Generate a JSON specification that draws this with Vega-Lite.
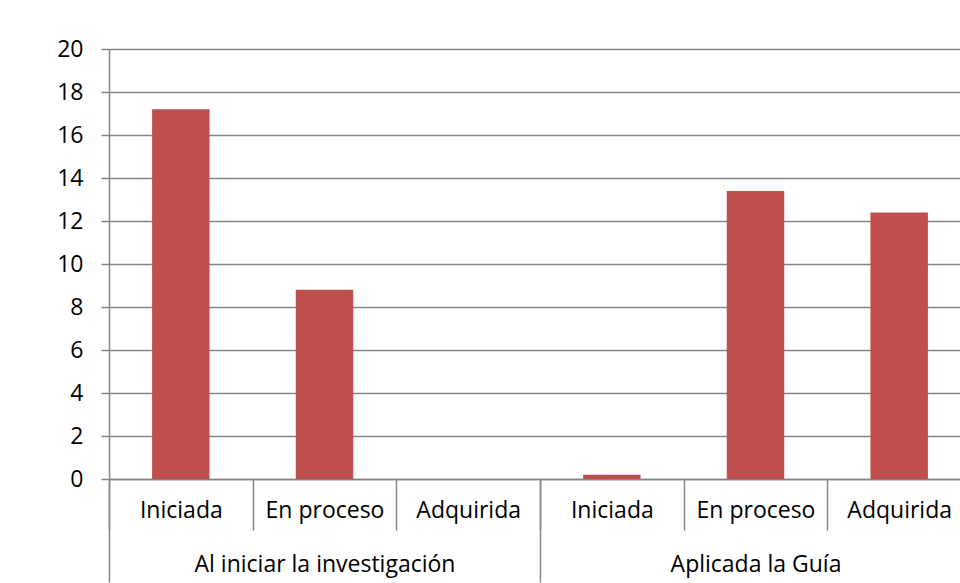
{
  "$schema": "https://vega.github.io/schema/vega-lite/v6.json",
  "width": 862,
  "height": 430,
  "autosize": {"type": "none"},
  "padding": {"left": 109, "top": 49, "right": 0, "bottom": 104},
  "background": "white",
  "config": {
    "view": {"stroke": null},
    "font": "Open Sans",
    "axis": {"labelFont": "Open Sans", "labelColor": "#000000", "labelLimit": 0}
  },
  "data": {
    "values": [
      {"key": "Al iniciar la investigación|Iniciada", "group": "Al iniciar la investigación", "level": "Iniciada", "value": 17.2},
      {"key": "Al iniciar la investigación|En proceso", "group": "Al iniciar la investigación", "level": "En proceso", "value": 8.8},
      {"key": "Al iniciar la investigación|Adquirida", "group": "Al iniciar la investigación", "level": "Adquirida", "value": 0},
      {"key": "Aplicada la Guía|Iniciada", "group": "Aplicada la Guía", "level": "Iniciada", "value": 0.2},
      {"key": "Aplicada la Guía|En proceso", "group": "Aplicada la Guía", "level": "En proceso", "value": 13.4},
      {"key": "Aplicada la Guía|Adquirida", "group": "Aplicada la Guía", "level": "Adquirida", "value": 12.4}
    ]
  },
  "layer": [
    {
      "mark": {"type": "bar", "color": "#C0504D", "width": {"band": 0.4}},
      "encoding": {
        "x": {
          "field": "key",
          "type": "nominal",
          "sort": null,
          "scale": {"paddingInner": 0, "paddingOuter": 0},
          "axis": {
            "orient": "bottom",
            "title": null,
            "labelAngle": 0,
            "labelExpr": "split(datum.label, '|')[1]",
            "labelFontSize": 23,
            "labelPadding": -31,
            "labelBaseline": "top",
            "tickBand": "extent",
            "tickSize": 51,
            "tickColor": "#868686",
            "tickWidth": 1.5,
            "domainColor": "#868686",
            "domainWidth": 1.5,
            "grid": false
          }
        },
        "y": {
          "field": "value",
          "type": "quantitative",
          "scale": {"domain": [0, 20], "nice": false},
          "axis": {
            "title": null,
            "values": [0, 2, 4, 6, 8, 10, 12, 14, 16, 18, 20],
            "labelFontSize": 23,
            "labelPadding": 18,
            "tickSize": 8,
            "tickColor": "#868686",
            "tickWidth": 1.5,
            "domainColor": "#868686",
            "domainWidth": 1.5,
            "grid": true,
            "gridColor": "#868686",
            "gridWidth": 1.5
          }
        }
      }
    },
    {
      "mark": {"type": "rule", "strokeOpacity": 0},
      "encoding": {
        "x": {
          "field": "group",
          "type": "nominal",
          "sort": null,
          "scale": {"paddingInner": 0, "paddingOuter": 0},
          "axis": {
            "orient": "bottom",
            "title": null,
            "labelAngle": 0,
            "labelFontSize": 23,
            "labelPadding": -29,
            "labelBaseline": "top",
            "tickBand": "extent",
            "tickSize": 103,
            "tickColor": "#868686",
            "tickWidth": 1.5,
            "domain": false,
            "grid": false
          }
        }
      }
    }
  ],
  "resolve": {"scale": {"x": "independent"}, "axis": {"x": "independent"}}
}
